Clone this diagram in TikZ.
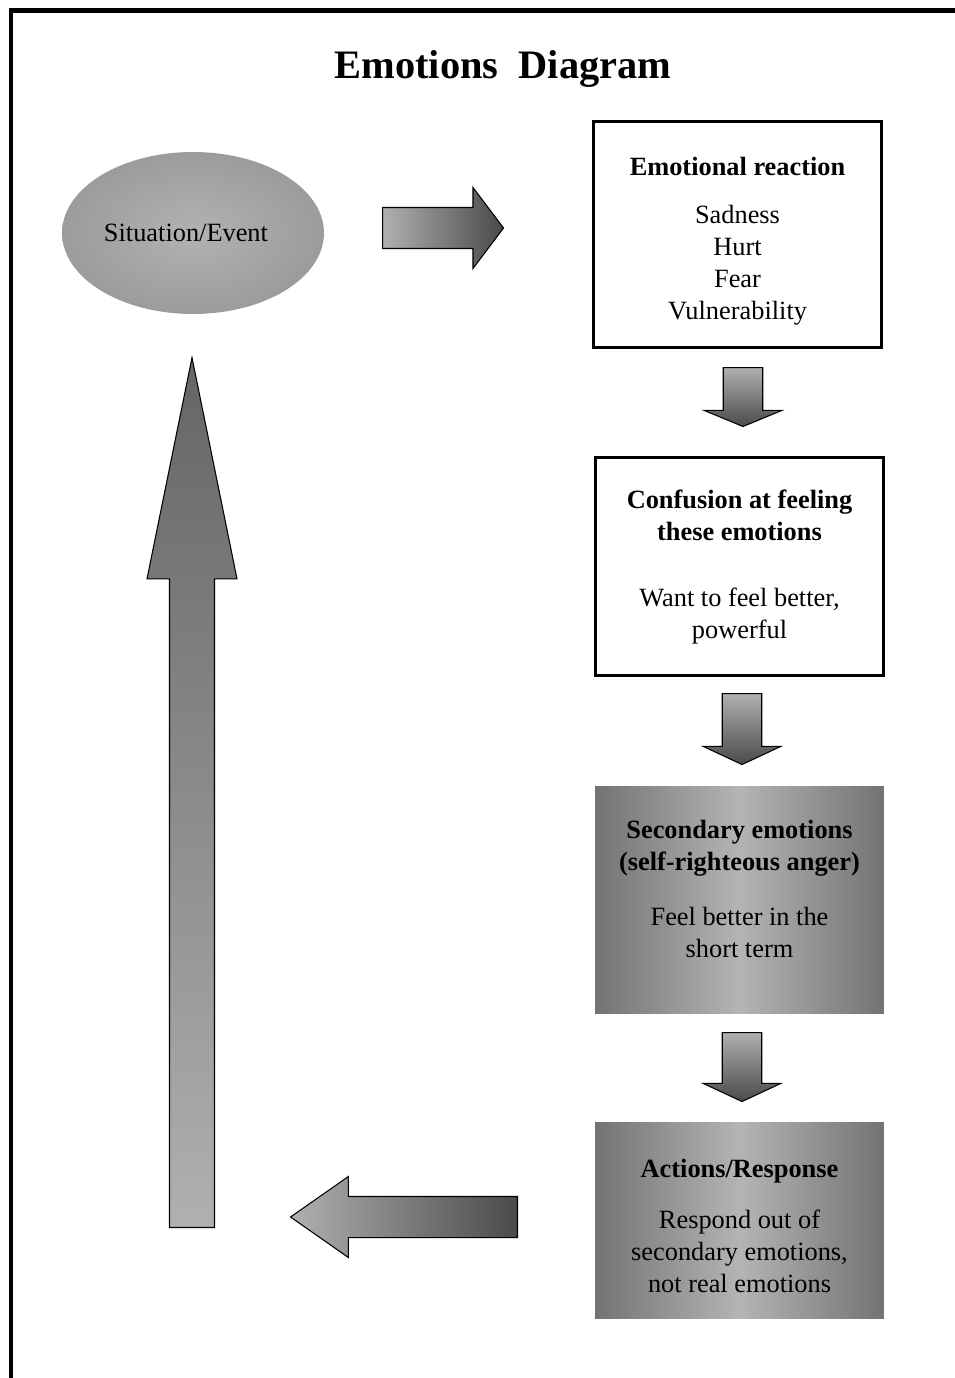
\documentclass[tikz,border=0pt]{standalone}
\usepackage{fontspec}
\setmainfont{Liberation Serif}
\usepackage{tikz}
\usetikzlibrary{shapes.geometric, shapes.arrows, positioning}
\definecolor{boxlight}{HTML}{B4B4B4}
\definecolor{boxdark}{HTML}{737373}
\definecolor{arrlight}{HTML}{B0B0B0}
\definecolor{arrdark}{HTML}{4A4A4A}
\definecolor{evinner}{HTML}{B2B2B2}
\definecolor{evouter}{HTML}{878787}
\pgfdeclareradialshading{eventshade}{\pgfpoint{0bp}{0bp}}{color(0bp)=(evinner); color(48bp)=(evouter); color(50bp)=(evouter)}
\tikzstyle{plainbox} = [draw, line width=1.7pt, fill=white,
    minimum width=5.78cm, align=center,
    font=\fontsize{15}{18.2}\selectfont]
\tikzstyle{shadebox} = [left color=boxdark, right color=boxdark, middle color=boxlight,
    minimum width=5.78cm, align=center,
    font=\fontsize{15}{18.2}\selectfont]
\tikzstyle{blockarr} = [single arrow, draw, line width=0.6pt,
    anchor=tail]
\tikzstyle{downarr} = [blockarr, shape border rotate=270, inner sep=0.38cm,
    minimum height=1.3cm, minimum width=1.56cm,
    single arrow head extend=0.38cm, single arrow tip angle=130,
    top color=arrlight, bottom color=arrdark]

\begin{document}
\begin{tikzpicture}[x=0.02cm, y=-0.02cm]
  \useasboundingbox (0,0) rectangle (955,1378);
  % Frame
  \draw[line width=2.6pt] (11,1400) -- (11,10.5) -- (980,10.5);

  % Title
  \node[font=\bfseries\fontsize{23}{27}\selectfont] (title) at (503,69) {Emotions\ \ Diagram};

  % Start: situation
  \node[ellipse, inner sep=0pt, minimum width=5.24cm, minimum height=3.24cm, shading=eventshade,
    font=\fontsize{15}{18.2}\selectfont] (event) at (193,233) {Situation/Event\kern8pt};

  % Right column
  \node[plainbox, minimum height=4.54cm] (react) at (737.5,234.5)
    {\mbox{}\\[-0.4pt]\textbf{Emotional reaction}\\[9pt] Sadness\\Hurt\\Fear\\Vulnerability};
  \node[plainbox, minimum height=4.36cm, below=2.14cm of react, xshift=0.04cm] (confuse)
    {\textbf{Confusion at feeling}\\\textbf{these emotions}\\[19pt] Want to feel better,\\powerful};
  \node[shadebox, minimum height=4.54cm, below=2.18cm of confuse] (second)
    {\textbf{Secondary emotions}\\\textbf{(self-righteous anger)}\\[13.5pt] Feel better in the\\short term\\[-5.2pt]\mbox{}};
  \node[shadebox, minimum height=3.92cm, below=2.16cm of second] (action)
    {\mbox{}\\[-1.6pt]\textbf{Actions/Response}\\[11pt] Respond out of\\secondary emotions,\\not real emotions};

  % Block arrows
  \node[blockarr, inner sep=0.4cm, minimum height=2.42cm, minimum width=1.6cm,
    single arrow head extend=0.4cm, single arrow tip angle=106,
    left color=arrlight, right color=arrdark] (a-react) at (382,228) {};
  \node[downarr, minimum height=1.18cm, single arrow tip angle=135] (a-confuse) at (743,367) {};
  \node[downarr, minimum height=1.42cm] (a-second) at (742,693) {};
  \node[downarr, minimum height=1.38cm] (a-action) at (742,1032) {};
  \node[blockarr, shape border rotate=180, inner sep=0.4cm, minimum height=4.54cm, minimum width=1.6cm,
    single arrow head extend=0.4cm, single arrow tip angle=70,
    left color=arrlight, right color=arrdark] (a-back) at (518,1217) {};
  \node[blockarr, shape border rotate=90, inner sep=0.44cm, minimum height=17.4cm, minimum width=1.78cm,
    single arrow head extend=0.45cm, single arrow tip angle=23,
    top color=arrdark!85, bottom color=arrlight] (a-event) at (192,1228) {};
\end{tikzpicture}
\end{document}
